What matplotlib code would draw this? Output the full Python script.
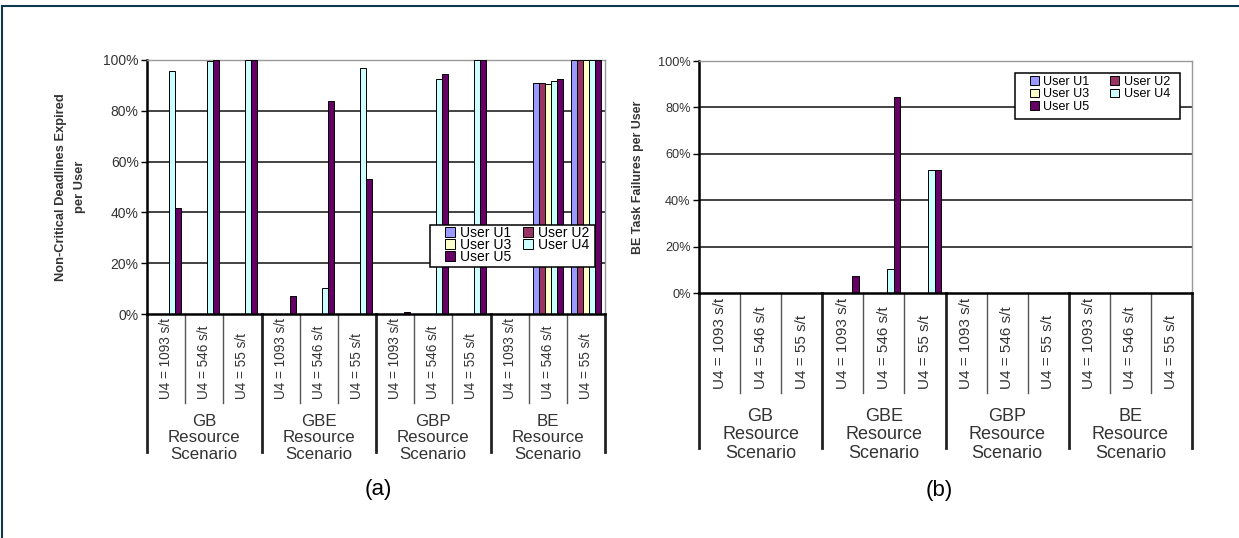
import numpy as np
import matplotlib.pyplot as plt
from matplotlib.lines import Line2D
from matplotlib.patches import Rectangle
from matplotlib.ticker import FuncFormatter

plt.rcParams['font.family'] = ['Liberation Sans', 'DejaVu Sans']

# x categories: three U4 rates inside each resource scenario
rates = ['U4 = 1093 s/t', 'U4 = 546 s/t', 'U4 = 55 s/t']
scenarios = ['GB', 'GBE', 'GBP', 'BE']
users = ['User U1', 'User U2', 'User U3', 'User U4', 'User U5']
colors = ['#9999FF', '#993366', '#FFFFCC', '#CCFFFF', '#660066']

# (a) non-critical deadlines expired per user, percent
dl_u1 = [0, 0, 0, 0, 0, 0, 0, 0, 0, 0, 91.1, 100]
dl_u2 = [0, 0, 0, 0, 0, 0, 0, 0, 0, 0, 91.1, 100]
dl_u3 = [0, 0, 0, 0, 0, 0, 0, 0, 0, 0, 90.5, 100]
dl_u4 = [95.5, 99.6, 100, 0, 10.4, 96.8, 0, 92.4, 100, 0, 91.9, 100]
dl_u5 = [41.9, 100, 100, 7.0, 83.8, 53.0, 0.9, 94.5, 100, 0, 92.7, 100]

# (b) BE task failures per user, percent
bf_u1 = [0, 0, 0, 0, 0, 0, 0, 0, 0, 0, 0, 0]
bf_u2 = [0, 0, 0, 0, 0, 0, 0, 0, 0, 0, 0, 0]
bf_u3 = [0, 0, 0, 0, 0, 0, 0, 0, 0, 0, 0, 0]
bf_u4 = [0, 0, 0, 0, 10.4, 53.2, 0, 0, 0, 0, 0, 0]
bf_u5 = [0, 0, 0, 7.5, 84.5, 53.2, 0, 0, 0, 0, 0, 0]

yticks = [0, 20, 40, 60, 80, 100]
TXT = '#333333'


def panel(ax, series, ylabel, tag, s):
    ncat = len(rates) * len(scenarios)
    x = np.arange(ncat) + 0.5
    w = 0.157
    for k, vals in enumerate(series):
        ax.bar(x + (k - 2) * w, vals, w, color=colors[k], edgecolor='black',
               linewidth=0.7, label=users[k], zorder=3)
    ax.set_xlim(0, ncat)
    ax.set_ylim(0, 100)
    ax.set_yticks(yticks)
    ax.yaxis.set_major_formatter(FuncFormatter(lambda v, p: '%d%%' % v))
    ax.tick_params(axis='y', length=4, width=1, labelsize=s['ytick'],
                   labelcolor=TXT, pad=2)
    ax.set_xticks([])
    for t in yticks[1:-1]:
        ax.axhline(t, color='#222222', lw=1.2, zorder=1)
    for side in ['top', 'right']:
        ax.spines[side].set_color('#999999')
        ax.spines[side].set_linewidth(1)
    ax.spines['left'].set_linewidth(1.8)
    ax.spines['bottom'].set_linewidth(1.8)
    ax.spines['bottom'].set_zorder(4)

    # category table under the axis
    tr = ax.get_xaxis_transform()
    for i in range(ncat + 1):
        if i % 3 == 0:
            ax.plot([i, i], [0, s['grp_end']], color='#222222', lw=2,
                    transform=tr, clip_on=False)
        else:
            ax.plot([i, i], [0, s['sub_end']], color='#555555', lw=1,
                    transform=tr, clip_on=False)
    for i in range(ncat):
        ax.text(x[i], s['lab_bot'], rates[i % 3], rotation=90, ha='center',
                va='bottom', fontsize=s['cat'], color=TXT, transform=tr)
    for g, name in enumerate(scenarios):
        ax.text(g * 3 + 1.5, s['grp_mid'], name + '\nResource\nScenario',
                ha='center', va='center', fontsize=s['grp'], color=TXT,
                linespacing=1.1, transform=tr)
    ax.text(s['tag_x'], s['tag_y'], tag, ha='center', va='center',
            fontsize=16, transform=ax.transAxes)
    ax.text(s['ylx'], 0.5, ylabel, rotation=90, ha='center', va='center',
            fontsize=s['ylab'], fontweight='bold', color=TXT,
            linespacing=s['ylls'], transform=ax.transAxes)

    # legend: white box plus a frameless two-column key on top of it
    ax.add_patch(Rectangle(s['box'][:2], s['box'][2], s['box'][3],
                           transform=ax.transAxes, facecolor='white',
                           edgecolor='black', lw=1.1, zorder=5,
                           clip_on=False))
    h, l = ax.get_legend_handles_labels()
    order = [0, 2, 4, 1, 3]
    leg = ax.legend([h[i] for i in order], [l[i] for i in order], ncol=2,
                    loc='upper left', bbox_to_anchor=s['leg'], mode='expand',
                    fontsize=s['legf'], frameon=False, handlelength=0.7,
                    handleheight=0.7, handletextpad=0.35, borderpad=0,
                    labelspacing=s['legls'], borderaxespad=0)
    leg.set_zorder(6)


fig = plt.figure(figsize=(12.39, 5.38), dpi=100)
ax1 = fig.add_axes([147 / 1239, 224 / 538, 458 / 1239, 254 / 538])
ax2 = fig.add_axes([699 / 1239, 245 / 538, 493 / 1239, 232 / 538])

panel(ax1, [dl_u1, dl_u2, dl_u3, dl_u4, dl_u5],
      'Non-Critical Deadlines Expired\nper User', '(a)',
      dict(ytick=10, cat=9.8, grp=12.2, ylab=9.3, ylx=-0.167, ylls=1.75,
           legf=10, legls=-0.15, leg=(0.651, 0.346, 0.314, 0),
           box=(0.618, 0.185, 0.360, 0.165),
           sub_end=-0.350, grp_end=-0.543, lab_bot=-0.335, grp_mid=-0.488,
           tag_x=0.504, tag_y=-0.689))
panel(ax2, [bf_u1, bf_u2, bf_u3, bf_u4, bf_u5],
      'BE Task Failures per User', '(b)',
      dict(ytick=9.2, cat=11, grp=13, ylab=8.9, ylx=-0.124, ylls=1.2,
           legf=9, legls=0.03, leg=(0.671, 0.935, 0.284, 0),
           box=(0.641, 0.75, 0.335, 0.198),
           sub_end=-0.431, grp_end=-0.668, lab_bot=-0.414, grp_mid=-0.612,
           tag_x=0.487, tag_y=-0.853))

# page frame lines
edge = '#0d3a4a'
fig.add_artist(Line2D([0.002, 1], [0.989, 0.989], color=edge, lw=1.5,
                      transform=fig.transFigure))
fig.add_artist(Line2D([0.002, 0.002], [0, 0.989], color=edge, lw=1.5,
                      transform=fig.transFigure))

fig.savefig('out.png', dpi=100)
